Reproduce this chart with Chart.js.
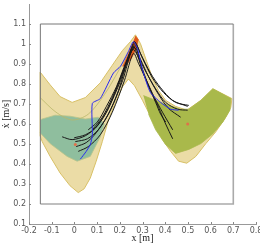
<!DOCTYPE html>
<html>
<head>
<meta charset="utf-8">
<script src="https://cdn.jsdelivr.net/npm/chart.js@4/dist/chart.umd.min.js"></script>
<style>
  html, body { margin: 0; padding: 0; background: #fff; }
  #wrap { width: 260px; height: 244px; }
</style>
</head>
<body>
<div id="wrap"><canvas id="phasePlot"></canvas></div>
<script>
// x [m], xdot [m/s]
const xTicks = [-0.2, -0.1, 0, 0.1, 0.2, 0.3, 0.4, 0.5, 0.6, 0.7, 0.8];
const yTicks = [0.1, 0.2, 0.3, 0.4, 0.5, 0.6, 0.7, 0.8, 0.9, 1, 1.1];

const boxTopLeft = [[-0.15, 0.2], [-0.15, 1.1], [0.7, 1.1]];
const boxBottomRight = [[0.7, 1.1], [0.7, 0.2], [-0.15, 0.2]];

const tanRegion = [
  [-0.151, 0.860], [-0.107, 0.796], [-0.063, 0.737], [-0.010, 0.708], [0.048, 0.732],
  [0.114, 0.806], [0.167, 0.894], [0.212, 0.968], [0.247, 1.012], [0.269, 1.046],
  [0.291, 1.002], [0.318, 0.914], [0.344, 0.830], [0.371, 0.767], [0.402, 0.718],
  [0.446, 0.688], [0.495, 0.669], [0.557, 0.718], [0.610, 0.776], [0.694, 0.727],
  [0.689, 0.683], [0.667, 0.634], [0.623, 0.561], [0.579, 0.502], [0.535, 0.438],
  [0.495, 0.404], [0.459, 0.414], [0.424, 0.463], [0.388, 0.522], [0.344, 0.620],
  [0.300, 0.718], [0.265, 0.791], [0.238, 0.825], [0.212, 0.786], [0.181, 0.708],
  [0.150, 0.620], [0.123, 0.512], [0.096, 0.414], [0.070, 0.330], [0.043, 0.276],
  [0.017, 0.257], [-0.019, 0.291], [-0.063, 0.355], [-0.107, 0.438], [-0.142, 0.512],
  [-0.151, 0.541], [-0.151, 0.860]
];

const tealRegion = [
  [-0.151, 0.620], [-0.142, 0.625], [-0.085, 0.644], [-0.019, 0.639], [0.048, 0.625],
  [0.105, 0.634], [0.132, 0.600], [0.114, 0.536], [0.070, 0.438], [0.012, 0.414],
  [-0.032, 0.438], [-0.107, 0.502], [-0.151, 0.556]
];

const oliveRegion = [
  [0.304, 0.742], [0.358, 0.718], [0.415, 0.693], [0.468, 0.674], [0.504, 0.674],
  [0.557, 0.718], [0.610, 0.776], [0.689, 0.727], [0.685, 0.669], [0.654, 0.610],
  [0.610, 0.551], [0.557, 0.502], [0.504, 0.473], [0.446, 0.453], [0.402, 0.497],
  [0.358, 0.571], [0.327, 0.649]
];

const peakRegion = [
  [0.269, 1.041], [0.282, 1.022], [0.273, 0.977], [0.251, 0.928], [0.225, 0.889],
  [0.212, 0.889], [0.234, 0.943], [0.256, 1.002]
];

const guideLine = [
  [-0.151, 0.732], [-0.081, 0.659], [-0.010, 0.620], [0.061, 0.649], [0.132, 0.747],
  [0.194, 0.865], [0.247, 0.977], [0.273, 1.022]
];

const blueRun = [
  [0.026, 0.424], [0.052, 0.463], [0.070, 0.497], [0.079, 0.546], [0.079, 0.703],
  [0.114, 0.727], [0.172, 0.855], [0.203, 0.889], [0.238, 0.963], [0.260, 1.012],
  [0.278, 0.977], [0.291, 0.914], [0.304, 0.855], [0.335, 0.757], [0.380, 0.708],
  [0.424, 0.674], [0.459, 0.669]
];

const run1 = [[-0.054, 0.536], [-0.010, 0.522], [0.048, 0.541], [0.101, 0.590], [0.150, 0.678], [0.203, 0.830], [0.247, 0.963], [0.265, 1.012], [0.291, 0.953], [0.335, 0.855], [0.380, 0.781], [0.433, 0.718], [0.499, 0.688]];
const run2 = [[-0.001, 0.531], [0.048, 0.546], [0.092, 0.580], [0.145, 0.669], [0.203, 0.816], [0.251, 0.977], [0.269, 1.002], [0.300, 0.928], [0.344, 0.830], [0.393, 0.757], [0.446, 0.708], [0.504, 0.693]];
const run3 = [[0.004, 0.512], [0.057, 0.526], [0.105, 0.571], [0.158, 0.669], [0.212, 0.816], [0.256, 0.973], [0.278, 0.943], [0.313, 0.865], [0.358, 0.776], [0.402, 0.708], [0.455, 0.674], [0.499, 0.669]];
const run4 = [[0.017, 0.463], [0.061, 0.487], [0.114, 0.546], [0.167, 0.659], [0.220, 0.816], [0.260, 0.953], [0.282, 0.904], [0.318, 0.816], [0.353, 0.732], [0.388, 0.659], [0.433, 0.571]];
const run5 = [[0.061, 0.571], [0.101, 0.610], [0.141, 0.688], [0.185, 0.786], [0.229, 0.914], [0.260, 0.987], [0.278, 0.943], [0.300, 0.865], [0.335, 0.767], [0.371, 0.683], [0.402, 0.600], [0.433, 0.526]];
const run6 = [[0.079, 0.571], [0.123, 0.634], [0.167, 0.732], [0.212, 0.855], [0.247, 0.953], [0.269, 0.992], [0.291, 0.904], [0.322, 0.806], [0.358, 0.708], [0.380, 0.649], [0.402, 0.610]];
const run7 = [[0.008, 0.487], [0.052, 0.507], [0.096, 0.556], [0.150, 0.649], [0.194, 0.767], [0.238, 0.928], [0.265, 0.982], [0.291, 0.924], [0.327, 0.836], [0.371, 0.747], [0.415, 0.678], [0.468, 0.634]];

const startPoints = [[0.004, 0.497], [0.499, 0.600]];

const toXY = pts => pts.map(p => ({ x: p[0], y: p[1] }));

function lineSet(pts, color, width, tension) {
  return {
    data: toXY(pts),
    showLine: true,
    borderColor: color,
    borderWidth: width,
    pointRadius: 0,
    tension: tension,
    fill: false
  };
}

function shapeSet(pts, fillColor, edgeColor, width) {
  return {
    data: toXY(pts),
    showLine: true,
    borderColor: edgeColor,
    borderWidth: width,
    backgroundColor: fillColor,
    pointRadius: 0,
    tension: 0,
    fill: 'shape'
  };
}

// first dataset ends up on top
const datasets = [
  lineSet(boxTopLeft, '#777', 1, 0),
  lineSet(boxBottomRight, '#aaa', 1.6, 0),
  {
    data: toXY(startPoints),
    pointRadius: 1.5,
    pointBackgroundColor: '#e0704a',
    pointBorderWidth: 0,
    showLine: false
  },
  lineSet(blueRun, '#2b2bf0', 1, 0.2),
  lineSet(run1, '#1a1a1a', 1, 0.3),
  lineSet(run2, '#1a1a1a', 1, 0.3),
  lineSet(run3, '#1a1a1a', 1, 0.3),
  lineSet(run4, '#1a1a1a', 1, 0.3),
  lineSet(run5, '#1a1a1a', 1, 0.3),
  lineSet(run6, '#1a1a1a', 1, 0.3),
  lineSet(run7, '#1a1a1a', 1, 0.3),
  shapeSet(peakRegion, '#e0581a', '#e0581a', 0.5),
  lineSet(guideLine, '#b9b76a', 0.8, 0.3),
  shapeSet(oliveRegion, '#a9b94b', '#a9b94b', 0.8),
  shapeSet(tealRegion, '#8fbe9e', '#b8c48a', 0.8),
  shapeSet(tanRegion, '#ebdca6', '#d8c066', 1)
];

// small inward tick marks, like the original plot
const innerTicks = {
  id: 'innerTicks',
  afterDraw(chart) {
    const ctx = chart.ctx;
    const xs = chart.scales.x, ys = chart.scales.y;
    const area = chart.chartArea;
    ctx.save();
    ctx.strokeStyle = '#888';
    ctx.lineWidth = 1;
    ctx.beginPath();
    xTicks.forEach(v => {
      const px = Math.round(xs.getPixelForValue(v)) + 0.5;
      ctx.moveTo(px, area.bottom);
      ctx.lineTo(px, area.bottom - 2);
    });
    yTicks.forEach(v => {
      const py = Math.round(ys.getPixelForValue(v)) + 0.5;
      ctx.moveTo(area.left, py);
      ctx.lineTo(area.left + 2, py);
    });
    ctx.stroke();
    ctx.restore();
  }
};

const tickFont = { family: 'DejaVu Sans', size: 8 };
const titleFont = { family: 'Liberation Serif', size: 10 };

new Chart(document.getElementById('phasePlot'), {
  type: 'scatter',
  data: { datasets: datasets },
  options: {
    responsive: true,
    maintainAspectRatio: false,
    animation: false,
    layout: { padding: 0 },
    plugins: {
      legend: { display: false },
      tooltip: { enabled: false }
    },
    scales: {
      x: {
        type: 'linear',
        min: -0.2,
        max: 0.8,
        afterBuildTicks: axis => { axis.ticks = xTicks.map(v => ({ value: v })); },
        ticks: {
          font: tickFont,
          color: '#555',
          padding: 2,
          maxRotation: 0,
          callback: v => String(Math.round(v * 10) / 10)
        },
        grid: { display: false, drawTicks: false },
        border: { display: true, color: '#999', width: 1 },
        title: { display: true, text: 'x [m]', font: titleFont, color: '#222', padding: { top: 0, bottom: 0 } },
        afterFit: axis => { axis.height = 20; axis.paddingLeft = 0; axis.paddingRight = 0; }
      },
      y: {
        type: 'linear',
        min: 0.1,
        max: 1.2,
        afterBuildTicks: axis => { axis.ticks = yTicks.map(v => ({ value: v })); },
        ticks: {
          font: tickFont,
          color: '#555',
          padding: 3,
          callback: v => String(Math.round(v * 10) / 10)
        },
        grid: { display: false, drawTicks: false },
        border: { display: true, color: '#999', width: 1 },
        title: { display: true, text: 'ẋ [m/s]', font: titleFont, color: '#222', padding: { top: 0, bottom: 0 } },
        afterFit: axis => { axis.width = 29; axis.paddingTop = 0; axis.paddingBottom = 0; }
      }
    }
  },
  plugins: [innerTicks]
});
</script>
</body>
</html>
